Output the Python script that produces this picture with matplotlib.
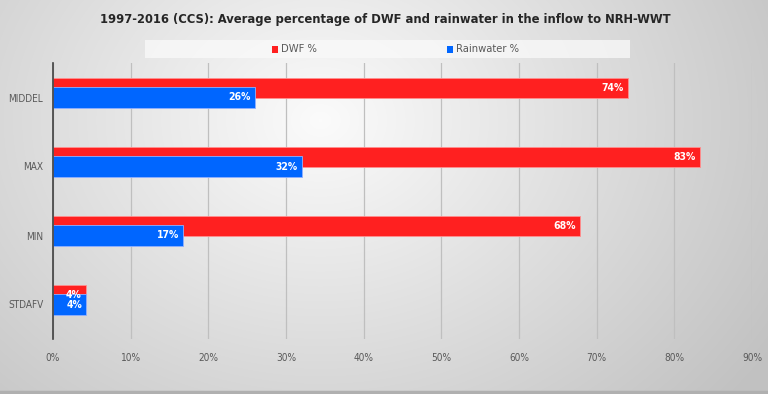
import matplotlib
matplotlib.use("Agg")
import matplotlib.pyplot as plt
import numpy as np
from matplotlib.ticker import FuncFormatter
from matplotlib import font_manager
from matplotlib.patches import Rectangle

categories = ["MIDDEL", "MAX", "MIN", "STDAFV"]
dwf = [74, 83.3, 67.8, 4.2]
rain = [26, 32, 16.7, 4.3]
dwf_labels = ["74%", "83%", "68%", "4%"]
rain_labels = ["26%", "32%", "17%", "4%"]
xticks = [0, 10, 20, 30, 40, 50, 60, 70, 80, 90]
series_names = ["DWF %", "Rainwater %"]

# pick a narrow font if available
names = {f.name for f in font_manager.fontManager.ttflist}
stretch = 'normal'
if "Liberation Sans Narrow" in names:
    base = "Liberation Sans Narrow"
elif any(f.name == "DejaVu Sans" and str(f.stretch) in ("condensed", "semi-condensed") for f in font_manager.fontManager.ttflist):
    base = "DejaVu Sans"
    stretch = 'condensed'
elif "Liberation Sans" in names:
    base = "Liberation Sans"
else:
    base = "DejaVu Sans"
fam = [base, "DejaVu Sans"]
plt.rcParams['font.family'] = fam
plt.rcParams['font.stretch'] = stretch

W, H = 768, 394
fig = plt.figure(figsize=(W / 100, H / 100), dpi=100)

# background gradient
bg = fig.add_axes([0, 0, 1, 1], zorder=-10)
yy, xx = np.mgrid[0:H, 0:W]
d = np.sqrt(((xx - 320) / 520.0) ** 2 + ((yy - 120) / 420.0) ** 2)
val = np.clip(0.985 - 0.22 * d, 0.76, 0.985)
img = np.dstack([val, val, val])
bg.imshow(img, aspect='auto', extent=[0, 1, 0, 1], origin='upper')
bg.axhline(0.006, color="#b0b0b0", lw=2.5)
bg.set_xlim(0, 1)
bg.set_ylim(0, 1)
bg.set_axis_off()

x0, x1 = 53, 752
ytop, ybot = 63, 339
ax = fig.add_axes([x0 / W, 1 - ybot / H, (x1 - x0) / W, (ybot - ytop) / H])
ax.patch.set_alpha(0)

y = np.arange(len(categories))
h = 0.29
off = 0.144
red = "#ff2020"
blue = "#0066ff"
ax.barh(y - off, dwf, height=h, color=red, edgecolor="#ff9090", linewidth=0.6, zorder=2)
ax.barh(y, rain, height=h, color=blue, edgecolor="#90b0ff", linewidth=0.6, zorder=3)

for i in range(len(categories)):
    ax.text(dwf[i] - 0.5, y[i] - off, dwf_labels[i], ha='right', va='center',
            color='white', fontsize=7.5, fontweight='bold', zorder=5)
    ax.text(rain[i] - 0.5, y[i], rain_labels[i], ha='right', va='center',
            color='white', fontsize=7.5, fontweight='bold', zorder=5)

ax.set_xlim(0, 90)
ax.set_ylim(len(categories) - 0.5, -0.5)
ax.set_xticks(xticks)
ax.xaxis.set_major_formatter(FuncFormatter(lambda v, p: f"{int(round(v))}%"))
ax.set_yticks(y)
ax.set_yticklabels(categories)
ax.tick_params(axis='both', length=0, labelsize=7.2, labelcolor="#595959")
ax.tick_params(axis='x', pad=10)
ax.tick_params(axis='y', pad=7)
ax.grid(axis='x', color="#bfbfbf", lw=0.9, zorder=0)
for s in ['top', 'right', 'bottom']:
    ax.spines[s].set_visible(False)
ax.spines['left'].set_color("#404040")
ax.spines['left'].set_linewidth(1.2)
ax.spines['left'].set_zorder(4)

# legend box (manual)
fig.patches.append(Rectangle((145 / W, 1 - 58 / H), (630 - 145) / W, 18 / H,
                             transform=fig.transFigure, facecolor="#fafafa", alpha=0.75,
                             edgecolor='none', zorder=1))
for name, col, mx in [(series_names[0], red, 275), (series_names[1], blue, 450)]:
    fig.patches.append(Rectangle((mx / W - 3 / W, 1 - 52.5 / H), 6 / W, 6 / H,
                                 transform=fig.transFigure, facecolor=col, edgecolor='none', zorder=2))
    fig.text((mx + 6) / W, 1 - 49 / H, name, ha='left', va='center', fontsize=8,
             color="#595959", zorder=3)

title = fig.text(385 / W, 1 - 20 / H,
                 "1997-2016 (CCS): Average percentage of DWF and rainwater in the inflow to NRH-WWT",
                 ha='center', va='center', fontsize=11.5, fontweight='bold', color="#262626")
r = fig.canvas.get_renderer()
wpx = title.get_window_extent(r).width
title.set_fontsize(11.5 * 575 / wpx)

fig.savefig("out.png", dpi=100)
